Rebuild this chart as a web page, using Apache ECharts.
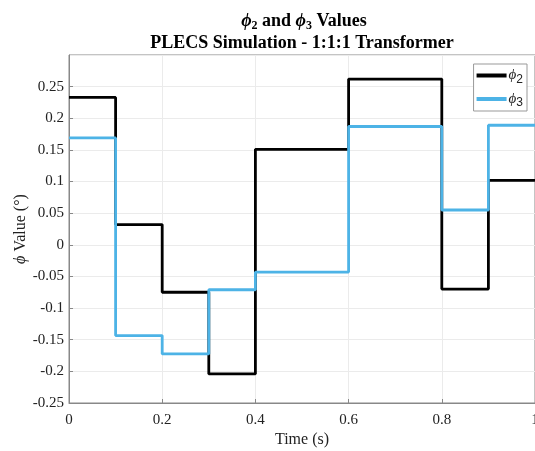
<!DOCTYPE html>
<html><head><meta charset="utf-8">
<script src="https://cdn.jsdelivr.net/npm/echarts@6/dist/echarts.min.js"></script>
<style>html,body{margin:0;padding:0;background:#fff}#c{width:535px;height:451px}</style>
</head><body><div id="c"></div>
<script>
const times = [0, 0.1, 0.2, 0.3, 0.4, 0.6, 0.8, 0.9, 1.0];
const phi2 = [0.233, 0.032, -0.075, -0.204, 0.151, 0.262, -0.070, 0.102, 0.102];
const phi3 = [0.169, -0.1435, -0.1725, -0.071, -0.043, 0.187, 0.055, 0.189, 0.189];
const xTicks = [0, 0.2, 0.4, 0.6, 0.8, 1];
const yTicks = [-0.25, -0.2, -0.15, -0.1, -0.05, 0, 0.05, 0.1, 0.15, 0.2, 0.25];

const serif = '"Liberation Serif","Times New Roman",serif';
const chart = echarts.init(document.getElementById('c'), null, {renderer: 'canvas'});
const fmt = v => {
  if (Math.abs(v) < 1e-9) return '0';
  return (+v.toFixed(2)).toString();
};
const pair = arr => times.map((t, i) => [t, arr[i]]);
chart.setOption({
  animation: false,
  backgroundColor: '#fff',
  title: [{
    text: '{i|ϕ}{s|2}{b| and }{i|ϕ}{s|3}{b| Values}',
    left: 299, textAlign: 'center', top: 5,
    textStyle: {
      rich: {
        i: {fontFamily: serif, fontStyle: 'italic', fontWeight: 'bold', fontSize: 18, color: '#000'},
        s: {fontFamily: serif, fontWeight: 'bold', fontSize: 12, color: '#000', padding: [10, 0, 0, 0]},
        b: {fontFamily: serif, fontWeight: 'bold', fontSize: 18, color: '#000'}
      }
    }
  }, {
    text: 'PLECS Simulation - 1:1:1 Transformer',
    left: 297, textAlign: 'center', top: 29,
    textStyle: {fontFamily: serif, fontWeight: 'bold', fontSize: 18, color: '#000'}
  }],
  grid: {left: 69, right: 0, top: 55, bottom: 48, show: true, borderColor: '#888', borderWidth: 1,
         containLabel: false, outerBoundsMode: 'none'},
  legend: {
    right: 8, top: 64, orient: 'vertical',
    backgroundColor: '#fff', borderColor: '#999', borderWidth: 1,
    padding: [4, 4, 2, 3], itemGap: 6,
    itemWidth: 30, itemHeight: 4,
    icon: 'rect',
    data: ['phi2', 'phi3'],
    formatter: n => n === 'phi2' ? '{i|ϕ}{s|2}' : '{i|ϕ}{s|3}',
    textStyle: {
      padding: [0, 0, 0, -3],
      rich: {
        i: {fontFamily: serif, fontStyle: 'italic', fontSize: 15, color: '#222'},
        s: {fontFamily: '"Liberation Sans",sans-serif', fontSize: 12, color: '#222', padding: [8, 0, 0, 0]}
      }
    }
  },
  xAxis: {
    type: 'value', min: 0, max: 1, interval: 0.2,
    name: 'Time (s)', nameLocation: 'middle', nameGap: 29, nameMoveOverlap: false,
    nameTextStyle: {fontFamily: serif, fontSize: 16, color: '#222'},
    axisLine: {show: true, onZero: false, lineStyle: {color: '#888'}},
    axisTick: {show: true, inside: true, length: 4, lineStyle: {color: '#888'}},
    axisLabel: {fontFamily: serif, fontSize: 15, color: '#222', margin: 10, formatter: fmt},
    splitLine: {show: true, lineStyle: {color: '#ebebeb'}}
  },
  yAxis: {
    type: 'value', min: -0.25, max: 0.3, interval: 0.05,
    name: '{i|ϕ} Value (°)', nameLocation: 'middle', nameGap: 40, nameMoveOverlap: false,
    nameTextStyle: {fontFamily: serif, fontSize: 16, color: '#222',
      rich: {i: {fontFamily: serif, fontStyle: 'italic', fontSize: 16, color: '#222'}}},
    axisLine: {show: true, onZero: false, lineStyle: {color: '#888'}},
    axisTick: {show: true, inside: true, length: 4, lineStyle: {color: '#888'}},
    axisLabel: {fontFamily: serif, fontSize: 15, color: '#222', margin: 5, showMaxLabel: false, formatter: fmt},
    splitLine: {show: true, lineStyle: {color: '#ebebeb'}}
  },
  series: [{
    name: 'phi2', type: 'line', step: 'end', data: pair(phi2),
    showSymbol: false, symbol: 'none', color: '#000',
    lineStyle: {color: '#000', width: 2.8}
  }, {
    name: 'phi3', type: 'line', step: 'end', data: pair(phi3),
    showSymbol: false, symbol: 'none', color: '#4DB3E6',
    lineStyle: {color: '#4DB3E6', width: 2.8}
  }]
});
</script></body></html>
